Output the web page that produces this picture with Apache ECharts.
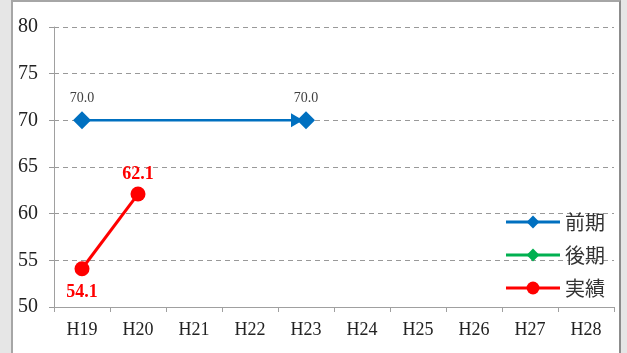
<!DOCTYPE html>
<html>
<head>
<meta charset="utf-8">
<script src="https://cdn.jsdelivr.net/npm/echarts@6/dist/echarts.min.js"></script>
<style>
  html, body { margin: 0; padding: 0; background: #e6e6e6; }
  #frame { position: absolute; left: 11px; top: 0; width: 606px; height: 360px;
    background: #fff; border-left: 2px solid #a6a6a6; border-top: 2px solid #a6a6a6; border-right: 2px solid #8c8c8c; }
  #main { position: absolute; left: 0; top: 0; width: 627px; height: 353px; }
</style>
</head>
<body>
<div id="frame"></div>
<div id="main"></div>
<script>
  // 年度
  var years = ['H19', 'H20', 'H21', 'H22', 'H23', 'H24', 'H25', 'H26', 'H27', 'H28'];
  // 前期（目標）
  var zenki = [70.0, null, null, null, 70.0, null, null, null, null, null];
  // 後期
  var kouki = [null, null, null, null, null, null, null, null, null, null];
  // 実績
  var jisseki = [54.1, 62.1, null, null, null, null, null, null, null, null];

  var serif = '"Liberation Serif", "DejaVu Serif", serif';
  var cjk = '"Noto Sans CJK JP", sans-serif';

  var jissekiData = jisseki.map(function (v, i) {
    if (i === 0) {
      return { value: v, label: { position: 'bottom', distance: 7 } };
    }
    return v;
  });

  var myChart = echarts.init(document.getElementById('main'));
  myChart.setOption({
    backgroundColor: 'transparent',
    animation: false,
    grid: {
      left: 54,
      right: 13,
      top: 27,
      bottom: 46
    },
    legend: {
      orient: 'vertical',
      right: 17,
      top: 207,
      itemWidth: 54,
      itemHeight: 16,
      itemGap: 13,
      lineStyle: { width: 3 },
      textStyle: { fontFamily: cjk, fontSize: 20, color: '#333' },
      data: ['前期', '後期', '実績']
    },
    xAxis: {
      type: 'category',
      data: years,
      boundaryGap: true,
      axisLine: { lineStyle: { color: '#a0a0a0', width: 1 } },
      axisTick: { show: true, length: 5, lineStyle: { color: '#a0a0a0' } },
      axisLabel: { fontFamily: serif, fontSize: 18, color: '#222', margin: 14 }
    },
    yAxis: {
      type: 'value',
      min: 50,
      max: 80,
      interval: 5,
      axisLine: { show: true, lineStyle: { color: '#a0a0a0', width: 1 } },
      axisTick: { show: true, length: 6, lineStyle: { color: '#999', type: [5, 4] } },
      axisLabel: { fontFamily: serif, fontSize: 20, color: '#222', margin: 16 },
      splitLine: { lineStyle: { color: '#999', type: [5, 4], width: 1 } }
    },
    series: [{
      name: '前期',
      type: 'line',
      data: zenki,
      connectNulls: true,
      color: '#0070C0',
      symbol: 'diamond',
      symbolSize: 18,
      lineStyle: { width: 2.5 },
      label: {
        show: true,
        position: 'top',
        distance: 6,
        fontFamily: serif,
        fontSize: 14,
        color: '#404040',
        formatter: function (p) { return p.value.toFixed(1); }
      },
      markPoint: {
        symbol: 'path://M0,0 L10,5 L0,10 Z',
        symbolSize: [12, 14],
        symbolOffset: [-9, 0],
        itemStyle: { color: '#0070C0' },
        label: { show: false },
        data: [{ coord: [4, zenki[4]] }]
      }
    }, {
      name: '後期',
      type: 'line',
      data: kouki,
      color: '#00B050',
      symbol: 'diamond',
      symbolSize: 14,
      lineStyle: { width: 2.5 }
    }, {
      name: '実績',
      type: 'line',
      data: jissekiData,
      color: '#FF0000',
      symbol: 'circle',
      symbolSize: 15,
      lineStyle: { width: 3 },
      label: {
        show: true,
        position: 'top',
        distance: 3,
        fontFamily: serif,
        fontSize: 18,
        fontWeight: 'bold',
        color: '#FF0000',
        formatter: function (p) { return p.value.toFixed(1); }
      }
    }]
  });
</script>
</body>
</html>
